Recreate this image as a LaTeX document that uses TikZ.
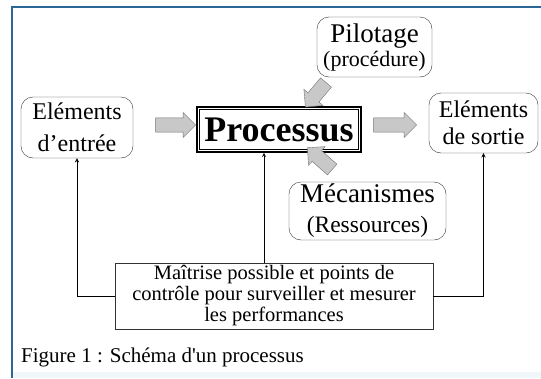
\documentclass[tikz,border=0pt]{standalone}
\usepackage{fontspec}
\setmainfont{Liberation Serif}
\newfontfamily\capfont{Liberation Serif}
\usetikzlibrary{shapes.arrows,calc}

\definecolor{framecol}{RGB}{44,104,150}
\definecolor{arrowgray}{RGB}{200,200,200}
\definecolor{bandcol}{RGB}{240,247,251}

\tikzset{
	rbox/.style={draw=black!80, thin, rounded corners=12pt, align=center, inner sep=0pt},
	blockarrow/.style={single arrow, draw=black!55, fill=arrowgray, inner sep=6.5pt,
		minimum width=25pt, single arrow head extend=5pt, minimum height=#1},
	conn/.style={->, >=stealth, line width=0.9pt}
}

\begin{document}
\begin{tikzpicture}[x=1pt, y=-1pt]
	\useasboundingbox (0,0) rectangle (541,378);
	% frame
	\fill [bandcol] (12.5,372) rectangle (541,378);
	\draw [framecol, line width=2pt] (541,6.5) -- (11.5,6.5) -- (11.5,378);

	% boxes
	\node [rbox, minimum width=112pt, minimum height=61pt, font=\fontsize{24}{32}\selectfont] (entree) at (77,127.5) {Eléments\\d’entrée};
	\node [draw=black, line width=1.6pt, minimum width=164pt, minimum height=45pt, font=\fontsize{36}{40}\selectfont\bfseries] (proc) at (279,129.5) {Processus};
	\draw [black, line width=0.5pt] ($(proc.north west)+(3.2,3.2)$) rectangle ($(proc.south east)+(-3.2,-3.2)$);
	\node [rbox, minimum width=109pt, minimum height=60pt, font=\fontsize{24}{27}\selectfont] (sortie) at (483.5,123) {Eléments\\de sortie};
	\node [rbox, minimum width=115pt, minimum height=60pt, font=\fontsize{22}{24}\selectfont] (pilot) at (374.5,47) {{\fontsize{27}{27}\selectfont Pilotage}\\(procédure)};
	\node [rbox, minimum width=157pt, minimum height=58pt, font=\fontsize{23.5}{30}\selectfont] (meca) at (367.5,211) {{\fontsize{27}{27}\selectfont Mécanismes}\\(Ressources)};
	\node [draw=black!80, thin, minimum width=318pt, minimum height=66pt, align=center, inner sep=0pt, font=\fontsize{20.5}{21}\selectfont] (ctrl) at (274,296) {Maîtrise possible et points de\\contrôle pour surveiller et mesurer\\les performances};

	% block arrows
	\node [blockarrow=40pt] (fin) at (172,125) {};
	\node [blockarrow=43pt] (fout) at (391.5,125) {};
	\node [blockarrow=32pt, rotate=230] (fpilot) at (318,92) {};
	\node [blockarrow=33pt, rotate=138.7] (fmeca) at (322.5,161) {};

	% control lines
	\coordinate (mid) at (264,0);
	\draw [conn] (ctrl.west) -| (entree.south);
	\draw [conn] (ctrl.north -| mid) -- (proc.south -| mid);
	\draw [conn] (ctrl.east) -| (sortie.south);

	% caption
	\node [anchor=base west, inner sep=0pt, font=\fontsize{21}{21}\selectfont\capfont] (cap) at (21,362) {Figure 1 : Schéma d'un processus};
\end{tikzpicture}
\end{document}
